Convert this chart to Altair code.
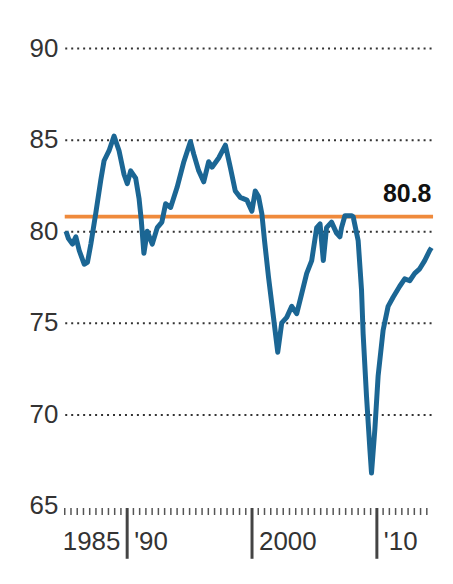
import altair as alt
import pandas as pd

# ---- data ----
years = [1985.1, 1985.3, 1985.62, 1985.89, 1986.16, 1986.56, 1986.82, 1987.09, 1987.49, 1987.89,
         1988.15, 1988.55, 1988.95, 1989.35, 1989.75, 1990.01, 1990.28, 1990.68, 1990.95, 1991.13,
         1991.34, 1991.61, 1992.01, 1992.41, 1992.78, 1993.08, 1993.48, 1994.0, 1994.54, 1995.07,
         1995.34, 1995.73, 1996.13, 1996.53, 1996.8, 1997.33, 1997.87, 1998.26, 1998.66, 1999.06,
         1999.59, 1999.99, 2000.26, 2000.52, 2000.79, 2001.0, 2001.32, 2001.72, 2002.06, 2002.38,
         2002.78, 2003.18, 2003.58, 2003.98, 2004.38, 2004.78, 2005.18, 2005.45, 2005.71, 2005.97,
         2006.37, 2006.77, 2007.04, 2007.17, 2007.44, 2007.97, 2008.1, 2008.5, 2008.77, 2008.9,
         2009.17, 2009.44, 2009.57, 2009.84, 2010.1, 2010.5, 2010.9, 2011.3, 2011.83, 2012.23,
         2012.63, 2013.03, 2013.43, 2013.83, 2014.23, 2014.37]
util = [80.0, 79.6, 79.3, 79.7, 78.95, 78.2, 78.3, 79.3, 81.0, 82.8,
        83.85, 84.4, 85.2, 84.4, 83.1, 82.6, 83.3, 82.9, 81.8, 80.6,
        78.8, 80.0, 79.3, 80.2, 80.5, 81.5, 81.3, 82.4, 83.8, 84.9,
        84.2, 83.3, 82.7, 83.8, 83.5, 84.0, 84.7, 83.5, 82.2, 81.85,
        81.7, 81.1, 82.2, 81.9, 80.95, 79.5, 77.5, 75.3, 73.4, 75.0,
        75.3, 75.9, 75.5, 76.6, 77.7, 78.4, 80.2, 80.4, 78.4, 80.2,
        80.5, 79.9, 79.7, 80.2, 80.85, 80.85, 80.8, 79.5, 76.8, 74.4,
        71.0, 68.1, 66.8, 69.2, 72.1, 74.6, 75.9, 76.4, 77.0, 77.4,
        77.3, 77.7, 77.95, 78.4, 78.95, 79.1]
avg_value = 80.8
avg_label = "80.8"
y_ticks = [65, 70, 75, 80, 85, 90]
first_label_year = [1985]
first_label_text = ["1985"]
other_label_years = [1990, 2000, 2010]
other_label_texts = ["'90", "2000", "'10"]
major_years = [1990, 2000, 2010]
half_year_ticks = [1985 + 0.5 * i for i in range(59)]

FONT = "Liberation Sans"
BLUE = "#1b6694"
ORANGE = "#ef8a3c"
W, H = 370, 460

df = pd.DataFrame({"year": years, "value": util})
avg_df = pd.DataFrame({"value": [avg_value]})
lab_df = pd.DataFrame({"year": [years[-1]], "value": [avg_value], "label": [avg_label]})
minor_df = pd.DataFrame({"year": half_year_ticks})
major_df = pd.DataFrame({"year": major_years})
first_df = pd.DataFrame({"year": first_label_year, "label": first_label_text})
other_df = pd.DataFrame({"year": other_label_years, "label": other_label_texts})

x_scale = alt.Scale(domain=[1985, 2014.5], nice=False, zero=False)
y_scale = alt.Scale(domain=[65, 90], nice=False, zero=False)

y_axis = alt.Axis(
    values=y_ticks, title=None, domain=False, ticks=False,
    grid=True, gridColor="#333", gridDash=[2, 4], gridWidth=2,
    gridOpacity={"condition": {"test": "datum.value == 65", "value": 0}, "value": 1},
    labelPadding=7, labelFont=FONT, labelFontSize=26, labelColor="#333",
    labelBaseline="middle",
)

X = lambda: alt.X("year:Q", scale=x_scale, axis=None)

line = alt.Chart(df).mark_line(color=BLUE, strokeWidth=5, strokeJoin="round").encode(
    x=X(),
    y=alt.Y("value:Q", scale=y_scale, axis=y_axis),
)
avg_rule = alt.Chart(avg_df).mark_rule(color=ORANGE, strokeWidth=4).encode(
    y=alt.Y("value:Q", scale=y_scale, axis=y_axis)
)
avg_text = alt.Chart(lab_df).mark_text(
    font=FONT, fontSize=25, fontWeight="bold", color="#111", align="right",
    baseline="alphabetic", dy=-15
).encode(
    x=X(),
    y=alt.Y("value:Q", scale=y_scale, axis=y_axis),
    text="label:N",
)
minor_ticks = alt.Chart(minor_df).mark_rule(color="#555", strokeWidth=1.5).encode(
    x=X(), y=alt.value(H + 2), y2=alt.value(H + 9)
)
major_ticks = alt.Chart(major_df).mark_rule(color="#444", strokeWidth=3).encode(
    x=X(), y=alt.value(H + 2), y2=alt.value(H + 53)
)
first_text = alt.Chart(first_df).mark_text(
    font=FONT, fontSize=26, color="#333", align="left", baseline="alphabetic", dx=-2
).encode(x=X(), y=alt.value(H + 44), text="label:N")
other_text = alt.Chart(other_df).mark_text(
    font=FONT, fontSize=26, color="#333", align="left", baseline="alphabetic", dx=7
).encode(x=X(), y=alt.value(H + 44), text="label:N")

chart = alt.layer(
    avg_rule, line, avg_text, minor_ticks, major_ticks, first_text, other_text
).properties(
    width=W, height=H,
    padding={"left": 57, "top": 39, "right": 12, "bottom": 70},
    autosize=alt.AutoSizeParams(type="none"),
    background="white",
).configure_view(stroke=None)

chart.save("out.html", embed_options={"renderer": "svg", "actions": False})
